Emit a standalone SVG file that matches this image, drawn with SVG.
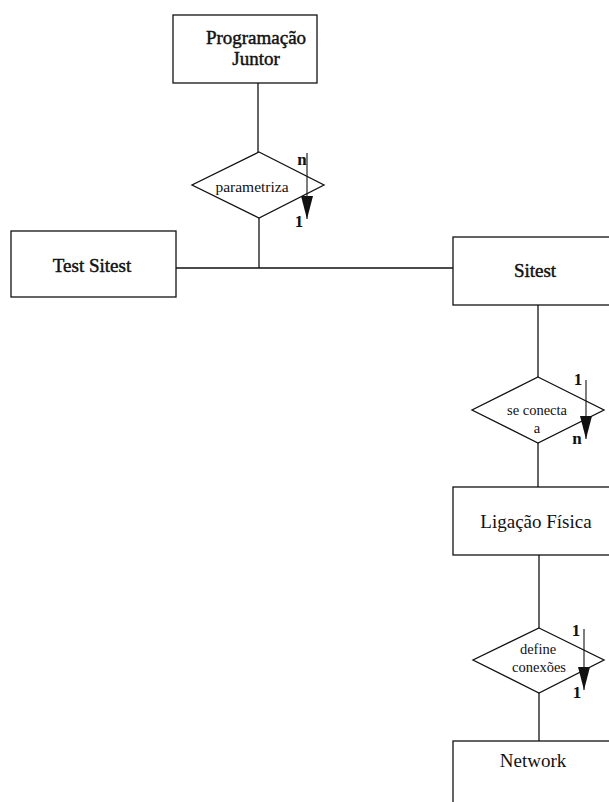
<svg xmlns="http://www.w3.org/2000/svg" width="609" height="802" viewBox="0 0 609 802">
<style>
.box{fill:#fff;stroke:#111;stroke-width:1.3}
.dia{fill:#fff;stroke:#111;stroke-width:1.3}
.ln{fill:none;stroke:#111;stroke-width:1.3}
.arr{fill:none;stroke:#111;stroke-width:1.1}
.t{font-family:"Liberation Serif","Times New Roman",serif;font-size:19px;fill:#111;text-anchor:middle}
.hb{stroke:#111;stroke-width:0.45}
.d{font-family:"Liberation Serif","Times New Roman",serif;font-size:14.5px;fill:#111;text-anchor:middle}
.c{font-family:"Liberation Serif","Times New Roman",serif;font-size:17px;font-weight:bold;fill:#111;text-anchor:middle}
</style>
<defs>
<marker id="ah" markerUnits="userSpaceOnUse" markerWidth="26" markerHeight="14" viewBox="0 -7 26 14" refX="23" refY="0" orient="auto">
<path d="M0,-6 L23,0 L0,6 Z" fill="#111"/>
</marker>
</defs>
<rect width="609" height="802" fill="#fff"/>
<g id="connectors">
<line class="ln" x1="258" y1="83" x2="258" y2="152"/>
<line class="ln" x1="259" y1="218" x2="259" y2="268"/>
<line class="ln" x1="176" y1="268" x2="453" y2="268"/>
<line class="ln" x1="538" y1="305" x2="538" y2="377"/>
<line class="ln" x1="538" y1="443" x2="538" y2="487"/>
<line class="ln" x1="539" y1="555" x2="539" y2="628"/>
<line class="ln" x1="539" y1="693" x2="539" y2="741"/>
</g>
<g id="prog-juntor">
<rect class="box" x="173" y="15" width="144" height="68"/>
<text class="t hb" x="256" y="44">Programação</text>
<text class="t hb" x="256" y="65">Juntor</text>
</g>
<g id="parametriza">
<polygon class="dia" points="259,152 324,185 259,218 192,185"/>
<text class="d" x="252" y="192" style="font-size:15.5px">parametriza</text>
<line class="arr" x1="307" y1="153" x2="307" y2="219" marker-end="url(#ah)"/>
<text class="c" x="302" y="165">n</text>
<text class="c" x="299" y="227">1</text>
</g>
<g id="test-sitest">
<rect class="box" x="11" y="231" width="165" height="66"/>
<text class="t hb" x="92" y="272">Test Sitest</text>
</g>
<g id="sitest">
<rect class="box" x="453" y="237" width="170" height="68"/>
<text class="t hb" x="535" y="277">Sitest</text>
</g>
<g id="se-conecta">
<polygon class="dia" points="538,377 604,410 538,443 472,410"/>
<text class="d" x="537" y="415">se conecta</text>
<text class="d" x="537" y="433">a</text>
<line class="arr" x1="586" y1="380" x2="586" y2="439" marker-end="url(#ah)"/>
<text class="c" x="578" y="385">1</text>
<text class="c" x="577" y="444">n</text>
</g>
<g id="ligacao-fisica">
<rect class="box" x="453" y="487" width="170" height="68"/>
<text class="t" x="536" y="528">Ligação Física</text>
</g>
<g id="define-conexoes">
<polygon class="dia" points="539,628 604,660 539,693 473,660"/>
<text class="d" x="538" y="654">define</text>
<text class="d" x="539" y="672">conexões</text>
<line class="arr" x1="584" y1="629" x2="584" y2="690" marker-end="url(#ah)"/>
<text class="c" x="576" y="636">1</text>
<text class="c" x="577" y="698">1</text>
</g>
<g id="network">
<rect class="box" x="453" y="741" width="170" height="80"/>
<text class="t" x="533" y="767">Network</text>
</g>
</svg>
